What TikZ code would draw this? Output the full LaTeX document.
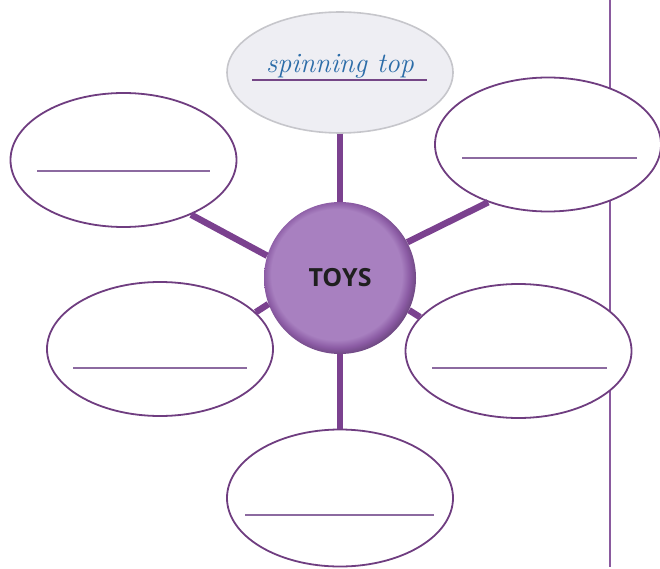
\documentclass[tikz,border=0pt]{standalone}
\usepackage{fontspec}
\newfontfamily\toysfont{Open Sans}
\usetikzlibrary{shapes.geometric}
\definecolor{rimcol}{HTML}{6F3D80}
\definecolor{conncol}{HTML}{7B418F}
\definecolor{sidecol}{HTML}{8A5A9E}
\definecolor{linecol}{HTML}{8C6AA0}
\definecolor{facecol}{HTML}{A880C0}
\definecolor{edgecol}{HTML}{8B5BA4}
\definecolor{topfill}{HTML}{EEEEF3}
\definecolor{topedge}{HTML}{C6C6CB}
\definecolor{penblue}{HTML}{2B6CA8}
\pgfdeclareradialshading{buttonshade}{\pgfpoint{-2bp}{2bp}}{%
  color(0bp)=(facecol); color(21.5bp)=(facecol); color(24bp)=(edgecol); color(26bp)=(edgecol!80!black); color(50bp)=(edgecol!80!black)}
\tikzset{
  bubble/.style={ellipse, draw=rimcol, line width=1.8pt, fill=white,
    minimum width=226pt, minimum height=134pt, inner sep=0pt},
  conn/.style={conncol, line width=6.5pt},
  blank/.style={linecol, line width=1.8pt},
}
\begin{document}
\begin{tikzpicture}[x=1pt,y=-1pt]
\useasboundingbox (0,0) rectangle (660,569);
% right margin line
\coordinate (s1) at (610,0);
\coordinate (s2) at (610,567);
\draw[sidecol, line width=2.6pt] (s1) -- (s2);
% nodes
\node[bubble] (tl) at (123.5,160) {};
\node[bubble] (tr) at (548,144.5) {};
\node[bubble] (ml) at (160,349) {};
\node[bubble] (mr) at (518.5,351) {};
\node[bubble, minimum height=137pt] (bt) at (340,498) {};
\node[ellipse, draw=topedge, line width=1.6pt, fill=topfill,
  minimum width=226pt, minimum height=121pt, inner sep=0pt] (top) at (340,72.5) {};
\node[circle, minimum size=152pt, inner sep=0pt, shading=buttonshade] (c) at (340,278) {};
\node[font=\toysfont\bfseries\fontsize{25}{25}\selectfont, text=black!88] (toys) at (340,278) {TOYS};
% connectors
\draw[conn] (top.south) -- (c.north);
\draw[conn] (c.south) -- (bt.north);
\draw[conn] (tl.-39) -- (c.163);
\draw[conn] (tr.-136) -- (c.28);
\draw[conn] (ml.21) -- (c.200);
\draw[conn] (mr.161) -- (c.-25);
% answer lines
\draw[blank] ([xshift=-86.5pt,yshift=-11pt]tl.center) -- ([xshift=86.5pt,yshift=-11pt]tl.center);
\draw[blank] ([xshift=-86pt,yshift=-13.5pt]tr.center) -- ([xshift=89pt,yshift=-13.5pt]tr.center);
\draw[blank] ([xshift=-87pt,yshift=-19pt]ml.center) -- ([xshift=87pt,yshift=-19pt]ml.center);
\draw[blank] ([xshift=-86.5pt,yshift=-17pt]mr.center) -- ([xshift=88.5pt,yshift=-17pt]mr.center);
\draw[blank] ([xshift=-95pt,yshift=-17pt]bt.center) -- ([xshift=94pt,yshift=-17pt]bt.center);
% spinning top
\draw[line width=2pt, color=rimcol!80!linecol] ([xshift=-88pt,yshift=-7.5pt]top.center) -- ([xshift=87pt,yshift=-7.5pt]top.center);
\node[anchor=base, font=\itshape\fontsize{28}{28}\selectfont, text=penblue, inner sep=0pt] (txt) at (340,73) {spinning top};
\end{tikzpicture}
\end{document}
